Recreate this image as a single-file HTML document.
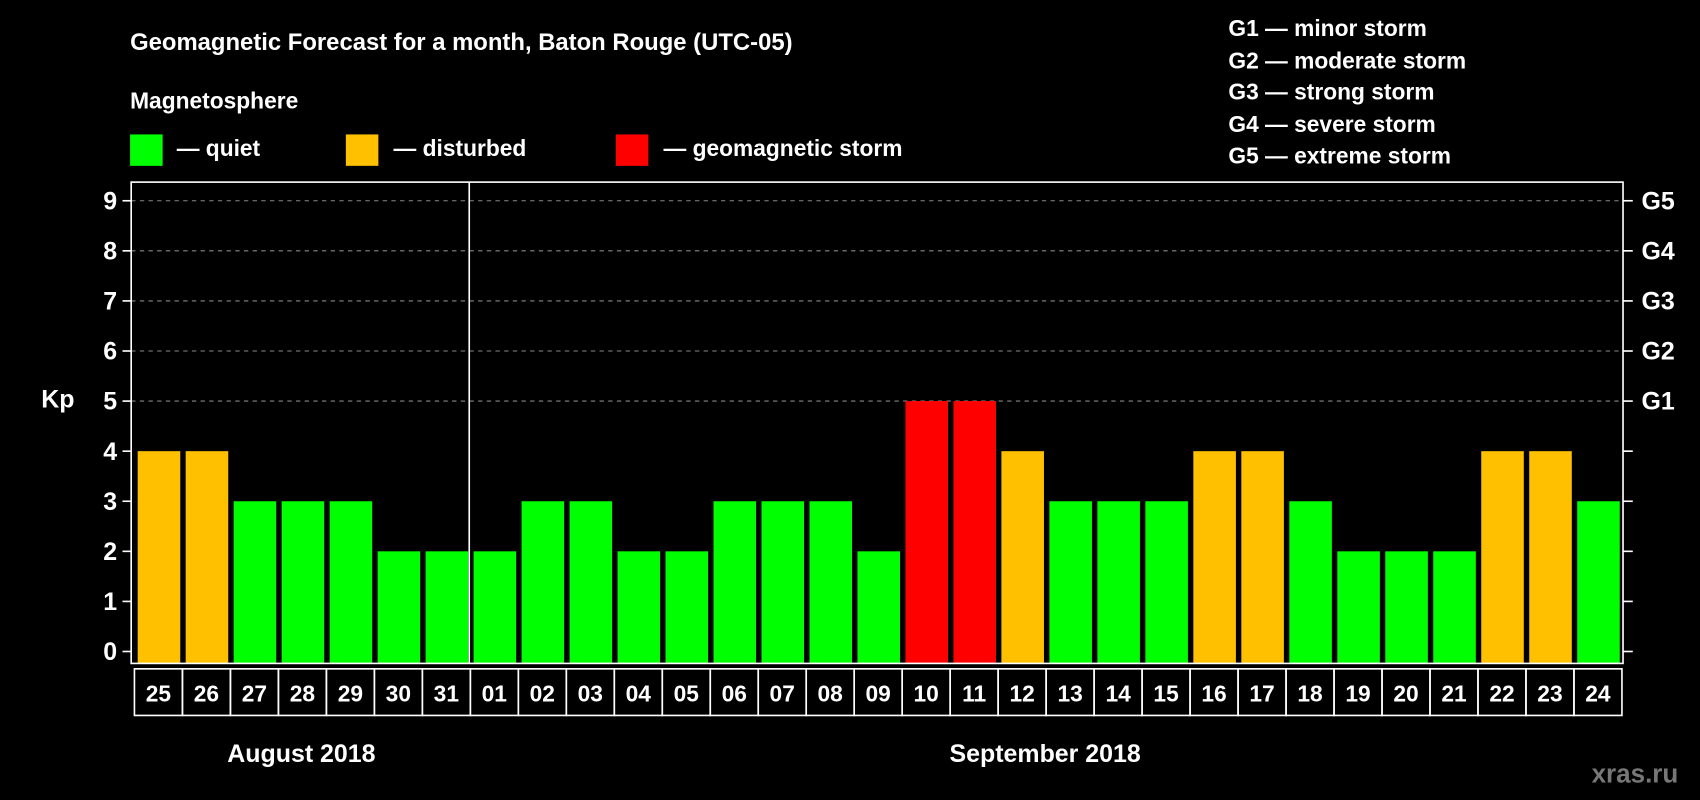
<!DOCTYPE html>
<html><head><meta charset="utf-8"><style>
html,body{margin:0;padding:0;background:#000;}
svg{display:block;font-family:"Liberation Sans",Arial,sans-serif;font-weight:bold;}
</style></head><body>
<svg id="chart" width="1700" height="800" viewBox="0 0 1568 738" preserveAspectRatio="none" xmlns="http://www.w3.org/2000/svg">
<rect width="1568" height="738" fill="#000"/>
<text x="120" y="46" fill="#fff" font-size="22">Geomagnetic Forecast for a month, Baton Rouge (UTC-05)</text>
<text x="120" y="100" fill="#fff" font-size="21">Magnetosphere</text>
<g><rect x="120" y="124" width="30" height="29" fill="#00ff00"/><text x="163" y="144" fill="#fff" font-size="21">— quiet</text></g>
<g><rect x="319" y="124" width="30" height="29" fill="#ffc000"/><text x="363" y="144" fill="#fff" font-size="21">— disturbed</text></g>
<g><rect x="568" y="124" width="30" height="29" fill="#ff0000"/><text x="612" y="144" fill="#fff" font-size="21">— geomagnetic storm</text></g>
<g fill="#fff" font-size="21">
<text x="1133" y="33">G1 — minor storm</text>
<text x="1133" y="63">G2 — moderate storm</text>
<text x="1133" y="92">G3 — strong storm</text>
<text x="1133" y="122">G4 — severe storm</text>
<text x="1133" y="151">G5 — extreme storm</text>
</g>
<text x="38" y="376" fill="#fff" font-size="23">Kp</text>
<g id="grid"></g><g id="bars"></g><g id="axes"></g><g id="cells"></g>
<text x="278" y="703" fill="#fff" font-size="23" text-anchor="middle">August 2018</text>
<text x="964" y="703" fill="#fff" font-size="23" text-anchor="middle">September 2018</text>
<text x="1548" y="722" fill="#777" font-size="24" text-anchor="end">xras.ru</text>
</svg>
<script>
const days = ["25","26","27","28","29","30","31","01","02","03","04","05","06","07","08","09","10","11","12","13","14","15","16","17","18","19","20","21","22","23","24"];
const kpValues = [4,4,3,3,3,2,2,2,3,3,2,2,3,3,3,2,5,5,4,3,3,3,4,4,3,2,2,2,4,4,3];
const yTicks = [0,1,2,3,4,5,6,7,8,9];
const gLabels = ["G1","G2","G3","G4","G5"];
const NS="http://www.w3.org/2000/svg";
const L=121,R=1497,T=168,B=612;
const y=v=>601-v*46.2;
const cellW=(1496-124)/days.length;
const x=i=>124+i*cellW;
function mk(tag,attrs,parent){const e=document.createElementNS(NS,tag);for(const k in attrs)e.setAttribute(k,attrs[k]);parent.appendChild(e);return e;}
const grid=document.getElementById('grid'),bars=document.getElementById('bars'),axes=document.getElementById('axes'),cells=document.getElementById('cells');
yTicks.forEach(v=>{
  if(v>=5){const g=mk('line',{x1:L,x2:R,y1:y(v),y2:y(v),stroke:'#888','stroke-dasharray':'4,4','stroke-width':1},grid);
  
  }
  const t=mk('line',{x1:113,x2:L,y1:y(v),y2:y(v),stroke:'#fff','stroke-width':1.5},axes);
  
  
  const t2=mk('line',{x1:R,x2:1506,y1:y(v),y2:y(v),stroke:'#fff','stroke-width':1.5},axes);
  
  
  const lb=mk('text',{x:108,y:y(v)+8,fill:'#fff','font-size':23,'text-anchor':'end'},axes);
  lb.textContent=v;
  
  
});
gLabels.forEach((g,i)=>{
  const lb=mk('text',{x:1514,y:y(5+i)+8,fill:'#fff','font-size':23},axes);
  lb.textContent=g;
  
  
});
kpValues.forEach((v,i)=>{
  const c=v>=5?'#ff0000':(v>=4?'#ffc000':'#00ff00');
  const r=mk('rect',{x:x(i)+3,y:y(v),width:cellW-5,height:B-y(v),fill:c},bars);
  
  
});
const fr=mk('rect',{x:L,y:T,width:R-L,height:B-T,fill:'none',stroke:'#fff','stroke-width':1.5},axes);


const sep=mk('line',{x1:x(7)-1,x2:x(7)-1,y1:T,y2:B,stroke:'#fff','stroke-width':1.5},axes);


days.forEach((d,i)=>{
  const r=mk('rect',{x:x(i),y:617,width:cellW,height:43,fill:'none',stroke:'#fff','stroke-width':1.5},cells);
  
  
  const t=mk('text',{x:x(i)+cellW/2,y:647,fill:'#fff','font-size':21,'text-anchor':'middle'},cells);
  t.textContent=d;
  
  
});
</script>
</body></html>
